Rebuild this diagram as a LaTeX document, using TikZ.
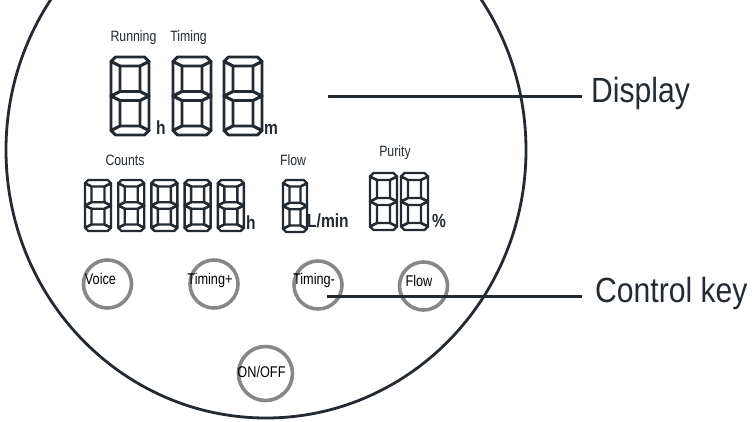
\documentclass[tikz,border=0pt]{standalone}
\usepackage{fontspec}
\newfontfamily\narrowfont{Liberation Sans}[FakeStretch=0.82]
\newfontfamily\calloutfont{Liberation Sans}[FakeStretch=0.86]
\definecolor{ink}{RGB}{35,42,49}
\definecolor{keygray}{RGB}{135,135,135}
\tikzset{
 seg/.style={draw=ink,line width=2.9pt,line join=round},
 smallseg/.style={seg,line width=2.4pt},
 rim/.style={draw=ink,line width=2.8pt},
 lead/.style={draw=ink,line width=3pt},
 keyring/.style={circle,draw=keygray,line width=3.6pt,minimum size=48pt,inner sep=0pt},
 keytext/.style={font=\narrowfont\fontsize{15.5}{18}\selectfont,text=black,inner sep=0pt,anchor=base},
 lcdlabel/.style={font=\narrowfont\fontsize{15}{18}\selectfont,text=ink,inner sep=0pt,anchor=base},
 unit/.style={font=\narrowfont\bfseries\fontsize{19}{20}\selectfont,text=ink,inner sep=0pt,anchor=base west},
 callout/.style={font=\calloutfont\fontsize{35}{40}\selectfont,text=ink,inner ysep=0pt,anchor=base west}
}
\newcommand{\lcddigit}[6][seg]{%
 \begin{scope}[shift={(#2,#3)}]
  \def\dgw{#4}\def\dgh{#5}\def\dgt{#6}
  \draw[#1] (0,\dgt/2) -- (\dgt/2,0) -- ({\dgw-\dgt/2},0) -- (\dgw,\dgt/2) -- ({\dgw-\dgt},\dgt) -- (\dgt,\dgt) -- cycle;
  \draw[#1] (0,\dgt/2) -- (\dgt,\dgt) -- (\dgt,{\dgh/2-\dgt/2}) -- (0,\dgh/2) -- cycle;
  \draw[#1] (\dgw,\dgt/2) -- (\dgw,\dgh/2) -- ({\dgw-\dgt},{\dgh/2-\dgt/2}) -- ({\dgw-\dgt},\dgt) -- cycle;
  \draw[#1] (0,\dgh/2) -- (\dgt,{\dgh/2-\dgt/2}) -- ({\dgw-\dgt},{\dgh/2-\dgt/2}) -- (\dgw,\dgh/2)
   -- ({\dgw-\dgt},{\dgh/2+\dgt/2}) -- (\dgt,{\dgh/2+\dgt/2}) -- cycle;
  \draw[#1] (0,\dgh/2) -- (\dgt,{\dgh/2+\dgt/2}) -- (\dgt,{\dgh-\dgt}) -- (0,{\dgh-\dgt/2}) -- cycle;
  \draw[#1] (\dgw,\dgh/2) -- (\dgw,{\dgh-\dgt/2}) -- ({\dgw-\dgt},{\dgh-\dgt}) -- ({\dgw-\dgt},{\dgh/2+\dgt/2}) -- cycle;
  \draw[#1] (0,{\dgh-\dgt/2}) -- (\dgt/2,\dgh) -- ({\dgw-\dgt/2},\dgh) -- (\dgw,{\dgh-\dgt/2}) -- ({\dgw-\dgt},{\dgh-\dgt}) -- (\dgt,{\dgh-\dgt}) -- cycle;
 \end{scope}}
\begin{document}
\begin{tikzpicture}[x=1pt,y=-1pt]
 \useasboundingbox (0,0) rectangle (754,422);
 \clip (0,0) rectangle (754,422);
 \draw[rim] (266,150) ellipse [x radius=260pt,y radius=268pt];
 \node[lcdlabel] (running) at (133.5,42) {Running};
 \node[lcdlabel] (timing) at (188.5,42) {Timing};
 \foreach \x in {111,173,224}
  \lcddigit{\x}{57}{38}{78}{9};
 \node[unit] (uh) at (156,135) {h};
 \node[unit] (um) at (264,135) {m};
 \node[lcdlabel] (counts) at (125,166) {Counts};
 \foreach \i in {0,...,4}
  \lcddigit[smallseg]{85+33.2*\i}{180}{26}{51}{6.5};
 \node[unit] (uch) at (246,229) {h};
 \node[lcdlabel] (flow) at (293,166) {Flow};
 \lcddigit[smallseg]{283}{180}{24}{52}{6.5};
 \node[unit] (ulmin) at (307,227) {L/min};
 \node[lcdlabel] (purity) at (395,157) {Purity};
 \foreach \x in {370,401}
  \lcddigit[smallseg]{\x}{173}{27}{57}{7};
 \node[unit] (upct) at (432,227) {\%};
 \node[keyring] (kvoice) at (107.5,284) {};
 \node[keyring] (ktimp) at (214,284) {};
 \node[keyring] (ktimm) at (318,285) {};
 \node[keyring] (kflow) at (423.5,286) {};
 \node[keyring,minimum size=54pt] (konoff) at (265.5,373.5) {};
 \node[keytext] (tvoice) at (100.5,284) {Voice};
 \node[keytext] (ttimp) at (210,284) {Timing+};
 \node[keytext] (ttimm) at (314,284) {Timing-};
 \node[keytext] (tflow) at (419,286) {Flow};
 \node[keytext] (tonoff) at (261.5,377) {ON/OFF};
 \node[callout,inner xsep=9pt] (display) at (582,103) {Display};
 \node[callout,inner xsep=13pt] (ctrlkey) at (582,302) {Control key};
 \coordinate (dispend) at (328,97);
 \coordinate (keyend) at (327,296);
 \draw[lead] (dispend) -- (dispend -| display.west);
 \draw[lead] (keyend) -- (keyend -| ctrlkey.west);
\end{tikzpicture}
\end{document}
